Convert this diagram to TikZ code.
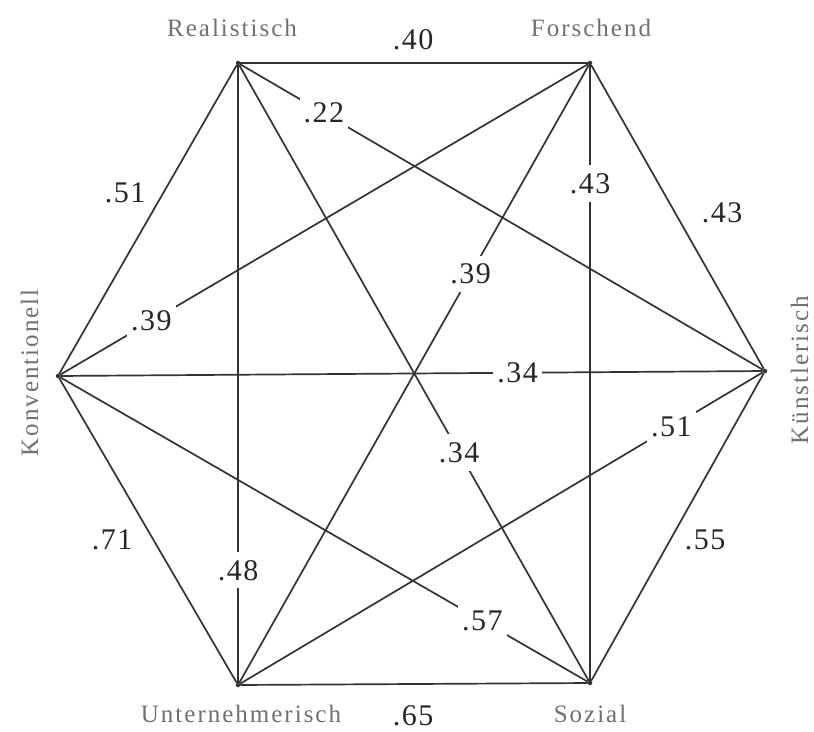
\documentclass[tikz,border=0pt]{standalone}
\usepackage{fontspec}
\setmainfont{Liberation Serif}[LetterSpace=8]
\newfontfamily\numfont{Liberation Serif}[LetterSpace=5]
\definecolor{lc}{HTML}{333333}
\definecolor{nc}{HTML}{262626}
\definecolor{gc}{HTML}{707070}
\begin{document}
\begin{tikzpicture}[x=1pt,y=-1pt,
  vtx/.style={circle,fill=lc,inner sep=0pt,minimum size=4.5pt},
  conn/.style={draw=lc,line width=1.7pt},
  numl/.style={font=\numfont\fontsize{30}{30}\selectfont,text=nc,inner sep=0pt},
  onl/.style={numl,fill=white,inner xsep=4pt,inner ysep=8pt},
  vname/.style={font=\fontsize{25}{25}\selectfont,text=gc,inner sep=0pt,anchor=base}]
\useasboundingbox (0,0) rectangle (814,731);
% vertices
\node[vtx] (R) at (238,63) {};
\node[vtx] (F) at (590,63) {};
\node[vtx] (K) at (765,371) {};
\node[vtx] (S) at (590,683) {};
\node[vtx] (U) at (238,685) {};
\node[vtx] (C) at (58,376) {};
% edges
\foreach \a/\b in {R/F,R/K,R/S,R/U,R/C,F/K,F/S,F/U,F/C,K/S,K/U,K/C,S/U,S/C,U/C}
  \draw[conn] (\a) -- (\b);
% labels on edges
\path (R) -- node[onl,pos=0.16] (l22) {.22} (K);
\path (C) -- node[onl,pos=0.173] (l39a) {.39} (F);
\path (F) -- node[onl,pos=0.338] (l39b) {.39} (U);
\path (F) -- node[onl,pos=0.192] (l43a) {.43} (S);
\path (C) -- node[onl,pos=0.651] (l34a) {.34} (K);
\path (U) -- node[onl,pos=0.825] (l51a) {.51} (K);
\path (R) -- node[onl,pos=0.629] (l34b) {.34} (S);
\path (R) -- node[onl,pos=0.818] (l48) {.48} (U);
\path (C) -- node[onl,pos=0.80] (l57) {.57} (S);
% labels beside outer edges
\node[numl] (l40) at (413,40) {.40};
\node[numl] (l51b) at (125,193) {.51};
\node[numl] (l43b) at (722,213) {.43};
\node[numl] (l55) at (705,540) {.55};
\node[numl] (l71) at (112,540) {.71};
\node[numl] (l65) at (413,716) {.65};
% names
\node[vname] (nR) at (232,36) {Realistisch};
\node[vname] (nF) at (591,36) {Forschend};
\node[vname] (nU) at (241,722) {Unternehmerisch};
\node[vname] (nS) at (590,722) {Sozial};
\node[vname,rotate=90] (nC) at (38,373) {Konventionell};
\node[vname,rotate=90] (nK) at (808,370) {Künstlerisch};
\end{tikzpicture}
\end{document}
